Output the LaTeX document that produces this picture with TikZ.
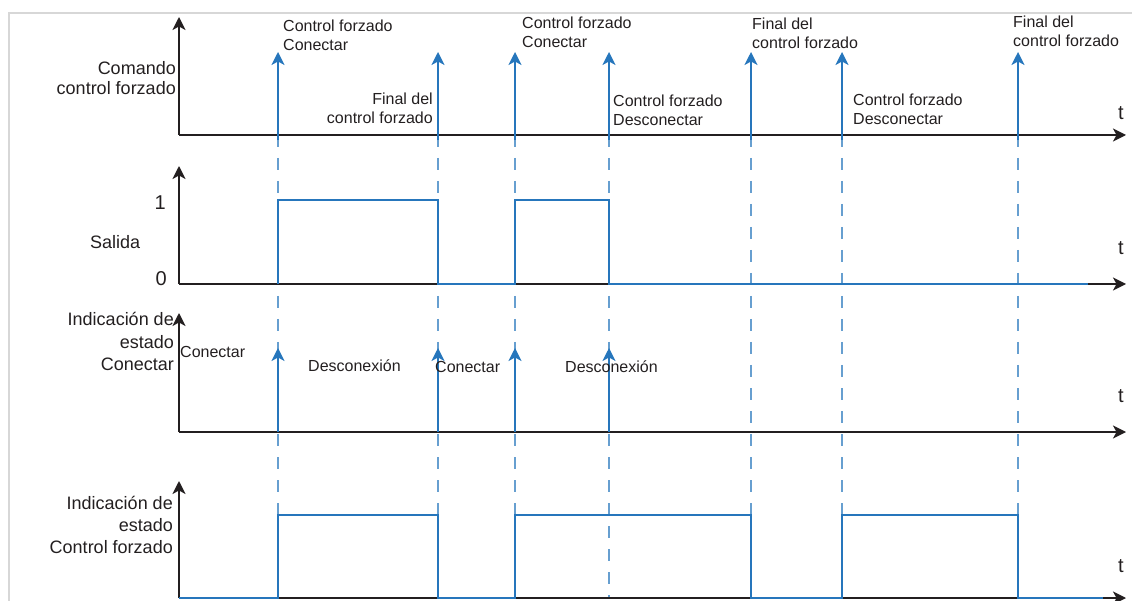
\documentclass[tikz,border=0pt]{standalone}
\usepackage{fontspec}
\setmainfont{Liberation Sans}
\usetikzlibrary{arrows.meta}

\definecolor{sigblue}{RGB}{38,118,188}
\definecolor{ink}{RGB}{35,31,32}
\definecolor{framegray}{RGB}{215,215,215}

\begin{document}
\begin{tikzpicture}[x=1pt,y=-1pt,
    axis/.style={ink, line width=2pt, -{Stealth[length=13pt,width=13pt,inset=3.5pt]}},
    pulse/.style={sigblue, line width=1.8pt, -{Stealth[length=13pt,width=13pt,inset=3.5pt]}},
    signal/.style={sigblue, line width=1.8pt},
    guide/.style={sigblue!70, line width=1.3pt, dash pattern=on 12pt off 11pt},
    evlabel/.style={ink, font=\fontsize{16}{19}\selectfont, inner sep=0pt},
    sidelabel/.style={ink, font=\fontsize{18}{21}\selectfont, inner sep=0pt, align=right},
    tlabel/.style={ink, font=\fontsize{20}{24}\selectfont, inner sep=0pt, anchor=base west}]
    \useasboundingbox (0,0) rectangle (1132,601);

    % Frame
    \draw[framegray, line width=2pt] (9,601) -- (9,13) -- (1132,13);

    % Guide lines through all panels
    \foreach \x in {278,438,515,609,751,842,1018} {
        \draw[guide] (\x,135) -- (\x,598);
    }

    % Axes
    \foreach \y/\top in {135/17, 284/166, 432/313, 598/481} {
        \draw[axis] (179,\y) -- (179,\top);
        \draw[axis] (179,\y) -- (1126,\y);
    }

    % Command pulses
    \foreach \x in {278,438,515,609,751,842,1018} {
        \draw[pulse] (\x,140) -- (\x,52);
    }

    % Output
    \draw[signal] (278,284) -- (278,200) -- (438,200) -- (438,284) -- (515,284)
        -- (515,200) -- (609,200) -- (609,284) -- (1088,284);

    % Connect indication pulses
    \foreach \x in {278,438,515,609} {
        \draw[pulse] (\x,432) -- (\x,348);
    }

    % Forced control indication
    \draw[signal] (179,598) -- (278,598) -- (278,515) -- (438,515) -- (438,598)
        -- (515,598) -- (515,515) -- (751,515) -- (751,598) -- (842,598)
        -- (842,515) -- (1018,515) -- (1018,598) -- (1103,598);

    % Command labels
    \node[evlabel, anchor=north west, align=left] (on1) at (283,19.5) {Control forzado\\Conectar};
    \node[evlabel, anchor=north east, align=right] (end1) at (433,92.5) {Final del\\control forzado};
    \node[evlabel, anchor=north west, align=left] (on2) at (522,16.5) {Control forzado\\Conectar};
    \node[evlabel, anchor=north west, align=left] (off1) at (613,94.5) {Control forzado\\Desconectar};
    \node[evlabel, anchor=north west, align=left] (end2) at (752,17.5) {Final del\\control forzado};
    \node[evlabel, anchor=north west, align=left] (off2) at (853,93.5) {Control forzado\\Desconectar};
    \node[evlabel, anchor=north west, align=left] (end3) at (1013,15.5) {Final del\\control forzado};

    % Indication labels
    \node[evlabel, anchor=base west] (con1) at (180,358) {Conectar};
    \node[evlabel, anchor=base west] (dis1) at (308,371) {Desconexión};
    \node[evlabel, anchor=base west] (con2) at (435,372) {Conectar};
    \node[evlabel, anchor=base west] (dis2) at (565,372) {Desconexión};

    % Side labels
    \node[sidelabel, anchor=north east, font=\fontsize{18}{20}\selectfont] (cmd) at (176,61) {Comando\\control forzado};
    \node[sidelabel, anchor=base east, font=\fontsize{20}{24}\selectfont] (one) at (166,210) {1};
    \node[sidelabel, anchor=base east, font=\fontsize{20}{24}\selectfont] (zero) at (167,286) {0};
    \node[sidelabel, anchor=base west] (out) at (90,249) {Salida};
    \node[sidelabel, anchor=north east, font=\fontsize{18}{22.5}\selectfont] (ind1) at (174,312.5) {Indicación de\\estado\\Conectar};
    \node[sidelabel, anchor=north east, font=\fontsize{18}{22}\selectfont] (ind2) at (173,496) {Indicación de\\estado\\Control forzado};

    % Time labels
    \node[tlabel] (t1) at (1118,120) {t};
    \node[tlabel] (t2) at (1118,255) {t};
    \node[tlabel] (t3) at (1118,402) {t};
    \node[tlabel] (t4) at (1118,572) {t};
\end{tikzpicture}
\end{document}
